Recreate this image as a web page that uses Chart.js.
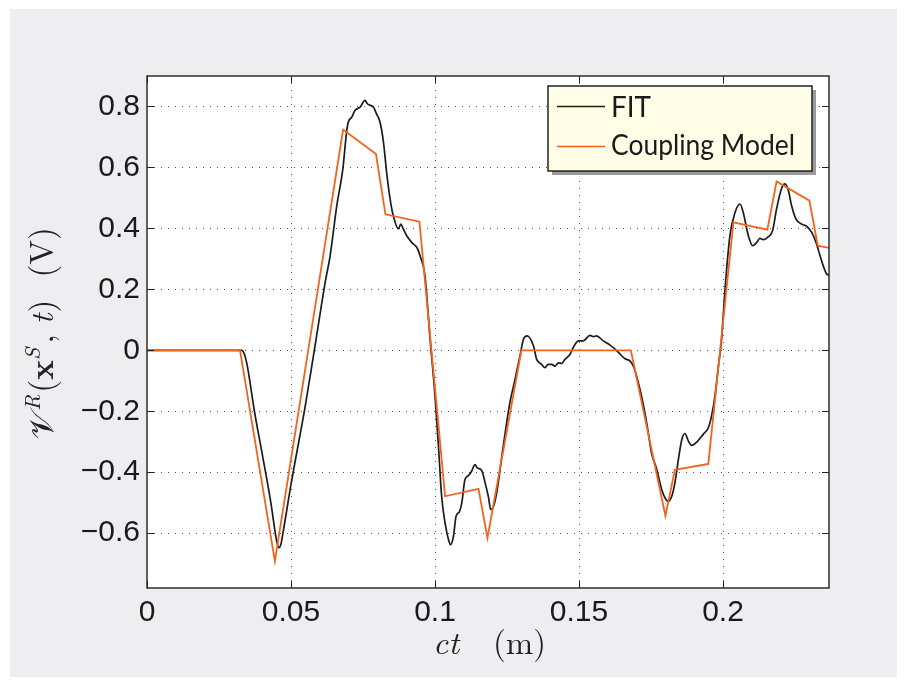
<!DOCTYPE html>
<html>
<head>
<meta charset="utf-8">
<script src="https://cdn.jsdelivr.net/npm/chart.js@4.4.0/dist/chart.umd.min.js"></script>
<style>
  html, body { margin: 0; padding: 0; background: #fff; }
  #wrap { width: 906px; height: 686px; }
</style>
</head>
<body>
<div id="wrap"><canvas id="chart" width="906" height="686"></canvas></div>
<script>
// tick values
const xTicks = [0, 0.05, 0.1, 0.15, 0.2];
const yTicks = [-0.6, -0.4, -0.2, 0, 0.2, 0.4, 0.6, 0.8];

// measured signal (FIT)
const fitX = [0, 0.0330, 0.0336, 0.0342, 0.0350, 0.0373, 0.0400, 0.0430, 0.0450, 0.0458, 0.0464, 0.0472,
  0.0500, 0.0550, 0.0587, 0.0620, 0.0635, 0.0659, 0.0680, 0.0693, 0.0699, 0.0711, 0.0722, 0.0740,
  0.0757, 0.0765, 0.0786, 0.0797, 0.0809, 0.0821, 0.0832, 0.0844, 0.0855, 0.0873, 0.0881, 0.0890,
  0.0902, 0.0919, 0.0939, 0.0948, 0.0965, 0.0983, 0.1000, 0.1012, 0.1023, 0.1035, 0.1047, 0.1054,
  0.1064, 0.1073, 0.1085, 0.1093, 0.1104, 0.1116, 0.1127, 0.1139, 0.1147, 0.1162, 0.1174, 0.1185,
  0.1194, 0.1205, 0.1216, 0.1232, 0.1247, 0.1260, 0.1278, 0.1295, 0.1307, 0.1320, 0.1342, 0.1353,
  0.1370, 0.1382, 0.1393, 0.1405, 0.1417, 0.1428, 0.1440, 0.1451, 0.1469, 0.1480, 0.1498, 0.1515,
  0.1538, 0.1550, 0.1561, 0.1584, 0.1608, 0.1625, 0.1642, 0.1660, 0.1677, 0.1690, 0.1700, 0.1717,
  0.1735, 0.1752, 0.1770, 0.1787, 0.1799, 0.1810, 0.1822, 0.1833, 0.1845, 0.1857, 0.1868, 0.1880,
  0.1891, 0.1909, 0.1931, 0.1949, 0.1960, 0.1972, 0.1984, 0.1995, 0.2007, 0.2024, 0.2042, 0.2059,
  0.2070, 0.2088, 0.2103, 0.2117, 0.2128, 0.2140, 0.2154, 0.2172, 0.2186, 0.2203, 0.2215, 0.2227,
  0.2238, 0.2253, 0.2273, 0.2290, 0.2308, 0.2323, 0.2337, 0.2348, 0.2360, 0.2368];
const fitY = [0, 0, -0.008, -0.025, -0.06, -0.20, -0.34, -0.50, -0.625, -0.648, -0.640, -0.60,
  -0.44, -0.18, 0.036, 0.23, 0.305, 0.475, 0.595, 0.716, 0.749, 0.765, 0.787, 0.798,
  0.820, 0.809, 0.798, 0.776, 0.749, 0.683, 0.584, 0.497, 0.442, 0.398, 0.414, 0.398,
  0.376, 0.354, 0.334, 0.310, 0.245, 0.036, -0.150, -0.315, -0.479, -0.567, -0.622, -0.638,
  -0.611, -0.545, -0.529, -0.501, -0.424, -0.411, -0.397, -0.375, -0.386, -0.394, -0.435, -0.479,
  -0.523, -0.507, -0.457, -0.348, -0.249, -0.172, -0.095, -0.019, 0.036, 0.047, 0.014, -0.030,
  -0.046, -0.057, -0.046, -0.046, -0.052, -0.041, -0.043, -0.030, -0.013, 0.009, 0.031, 0.031,
  0.049, 0.045, 0.047, 0.031, 0.017, 0.004, -0.012, -0.028, -0.035, -0.055, -0.085, -0.150,
  -0.238, -0.337, -0.391, -0.457, -0.485, -0.496, -0.479, -0.435, -0.359, -0.293, -0.273, -0.298,
  -0.312, -0.301, -0.276, -0.254, -0.216, -0.150, -0.052, 0.036, 0.201, 0.376, 0.453, 0.480,
  0.453, 0.376, 0.343, 0.354, 0.367, 0.363, 0.370, 0.392, 0.464, 0.530, 0.546, 0.524,
  0.475, 0.431, 0.414, 0.407, 0.387, 0.354, 0.310, 0.277, 0.250, 0.247];

// coupling model
const modelX = [0, 0.0323, 0.0444, 0.0681, 0.0795, 0.0828, 0.0946, 0.1035, 0.1151, 0.1182, 0.1300,
  0.1680, 0.1800, 0.1833, 0.1949, 0.2036, 0.2154, 0.2186, 0.2300, 0.2329, 0.2368];
const modelY = [0, 0, -0.692, 0.724, 0.644, 0.446, 0.422, -0.479, -0.455, -0.616, 0,
  0, -0.543, -0.392, -0.373, 0.420, 0.396, 0.554, 0.491, 0.343, 0.336];

const orange = "#f5621c";
const ink = "#1c1c1c";

function fmt(v) {
  if (v === 0) return "0";
  return (v < 0 ? "\u2212" : "") + String(Math.abs(v));
}

// draws a row of text pieces, each with its own font and vertical shift
function drawRuns(ctx, runs, cx, baseline) {
  let total = 0;
  runs.forEach(r => { ctx.font = r.font; r.w = ctx.measureText(r.text).width + (r.gap || 0); total += r.w; });
  let x = cx - total / 2;
  runs.forEach(r => {
    ctx.font = r.font;
    ctx.fillText(r.text, x, baseline + (r.dy || 0));
    x += r.w;
  });
}

const frame = {
  id: "frame",
  beforeDraw(chart) {
    const { ctx, chartArea: a } = chart;
    ctx.save();
    ctx.fillStyle = "#fff";
    ctx.fillRect(0, 0, chart.width, chart.height);
    ctx.fillStyle = "#eeeef0";
    ctx.fillRect(10, 9, 887, 668);
    ctx.fillStyle = "#fff";
    ctx.fillRect(a.left, a.top, a.right - a.left, a.bottom - a.top);

    // dotted grid
    const xs = chart.scales.x, ys = chart.scales.y;
    ctx.strokeStyle = "#555";
    ctx.lineWidth = 1;
    ctx.setLineDash([1, 6]);
    xTicks.forEach(v => {
      const px = Math.round(xs.getPixelForValue(v)) + 0.5;
      if (px <= a.left + 1 || px >= a.right - 1) return;
      ctx.beginPath(); ctx.moveTo(px, a.bottom); ctx.lineTo(px, a.top); ctx.stroke();
    });
    yTicks.forEach(v => {
      const py = Math.round(ys.getPixelForValue(v)) + 0.5;
      ctx.beginPath(); ctx.moveTo(a.left, py); ctx.lineTo(a.right, py); ctx.stroke();
    });
    ctx.restore();
  },
  afterDraw(chart) {
    const { ctx, chartArea: a } = chart;
    const xs = chart.scales.x, ys = chart.scales.y;
    ctx.save();

    // axes box and inward ticks
    ctx.strokeStyle = "#222";
    ctx.lineWidth = 1.4;
    ctx.strokeRect(a.left, a.top, a.right - a.left, a.bottom - a.top);
    ctx.lineWidth = 1;
    const tl = 7;
    xTicks.forEach(v => {
      const px = Math.round(xs.getPixelForValue(v)) + 0.5;
      ctx.beginPath();
      ctx.moveTo(px, a.bottom); ctx.lineTo(px, a.bottom - tl);
      ctx.moveTo(px, a.top); ctx.lineTo(px, a.top + tl);
      ctx.stroke();
    });
    yTicks.forEach(v => {
      const py = Math.round(ys.getPixelForValue(v)) + 0.5;
      ctx.beginPath();
      ctx.moveTo(a.left, py); ctx.lineTo(a.left + tl, py);
      ctx.moveTo(a.right, py); ctx.lineTo(a.right - tl, py);
      ctx.stroke();
    });

    // legend
    const lx = 548, ly = 86, lw = 264, lh = 85;
    ctx.fillStyle = "#9a9a9a";
    ctx.fillRect(lx + 4, ly + 4, lw, lh);
    ctx.fillStyle = "#fffde6";
    ctx.fillRect(lx, ly, lw, lh);
    ctx.strokeStyle = "#222";
    ctx.lineWidth = 1.5;
    ctx.strokeRect(lx, ly, lw, lh);
    ctx.lineWidth = 1.6;
    ctx.strokeStyle = ink;
    ctx.beginPath(); ctx.moveTo(557, 106.5); ctx.lineTo(605, 106.5); ctx.stroke();
    ctx.strokeStyle = orange;
    ctx.beginPath(); ctx.moveTo(557, 146.5); ctx.lineTo(605, 146.5); ctx.stroke();
    ctx.fillStyle = "#1a1a1a";
    ctx.font = "29px Lato";
    ctx.textBaseline = "alphabetic";
    ctx.textAlign = "left";
    ctx.fillText("FIT", 611, 117, 40);
    ctx.fillText("Coupling Model", 611, 155, 184);

    // x axis title
    const serif = "'Latin Modern Roman', 'Liberation Serif', 'DejaVu Serif', serif";
    ctx.fillStyle = "#222";
    ctx.font = "italic 33px " + serif;
    ctx.fillText("ct", 433, 654);
    ctx.font = "33px " + serif;
    ctx.fillText("(m)", 493, 654);

    // y axis title
    ctx.translate(53, 333);
    ctx.rotate(-Math.PI / 2);
    drawRuns(ctx, [
      { text: "\u{1D4B1}", font: "33px 'DejaVu Serif', serif", gap: 1 },
      { text: "R", font: "italic 22px " + serif, dy: -13, gap: 2 },
      { text: "(", font: "33px " + serif },
      { text: "x", font: "bold 33px " + serif },
      { text: "S", font: "italic 22px " + serif, dy: -13, gap: 4 },
      { text: ",", font: "33px " + serif, gap: 10 },
      { text: "t", font: "italic 33px " + serif, gap: 1 },
      { text: ")", font: "33px " + serif, gap: 22 },
      { text: "(V)", font: "33px " + serif }
    ], 0, 0);
    ctx.restore();
  }
};

const tickFont = { family: "'Liberation Sans', Arial, sans-serif", size: 30 };

new Chart(document.getElementById("chart"), {
  type: "line",
  data: {
    datasets: [
      {
        label: "Coupling Model",
        data: modelX.map((x, i) => ({ x, y: modelY[i] })),
        borderColor: orange,
        borderWidth: 1.8,
        pointRadius: 0,
        tension: 0
      },
      {
        label: "FIT",
        data: fitX.map((x, i) => ({ x, y: fitY[i] })),
        borderColor: ink,
        borderWidth: 1.7,
        pointRadius: 0,
        cubicInterpolationMode: "monotone"
      }
    ]
  },
  options: {
    responsive: false,
    devicePixelRatio: 1,
    animation: false,
    layout: { padding: { top: 76, right: 77, left: 0, bottom: 0 } },
    plugins: { legend: { display: false }, tooltip: { enabled: false } },
    scales: {
      x: {
        type: "linear",
        min: 0,
        max: 0.2368,
        afterFit: s => { s.height = 98; },
        afterBuildTicks: s => { s.ticks = xTicks.map(v => ({ value: v })); },
        grid: { display: false, drawTicks: false },
        border: { display: false },
        ticks: { padding: 7, font: tickFont, color: "#1a1a1a", maxRotation: 0, autoSkip: false, callback: v => fmt(v) }
      },
      y: {
        type: "linear",
        min: -0.78,
        max: 0.9,
        afterFit: s => { s.width = 147; },
        afterBuildTicks: s => { s.ticks = yTicks.map(v => ({ value: v })); },
        grid: { display: false, drawTicks: false },
        border: { display: false },
        ticks: { padding: 7, font: tickFont, color: "#1a1a1a", autoSkip: false, callback: v => fmt(v) }
      }
    }
  },
  plugins: [frame]
});
</script>
</body>
</html>
